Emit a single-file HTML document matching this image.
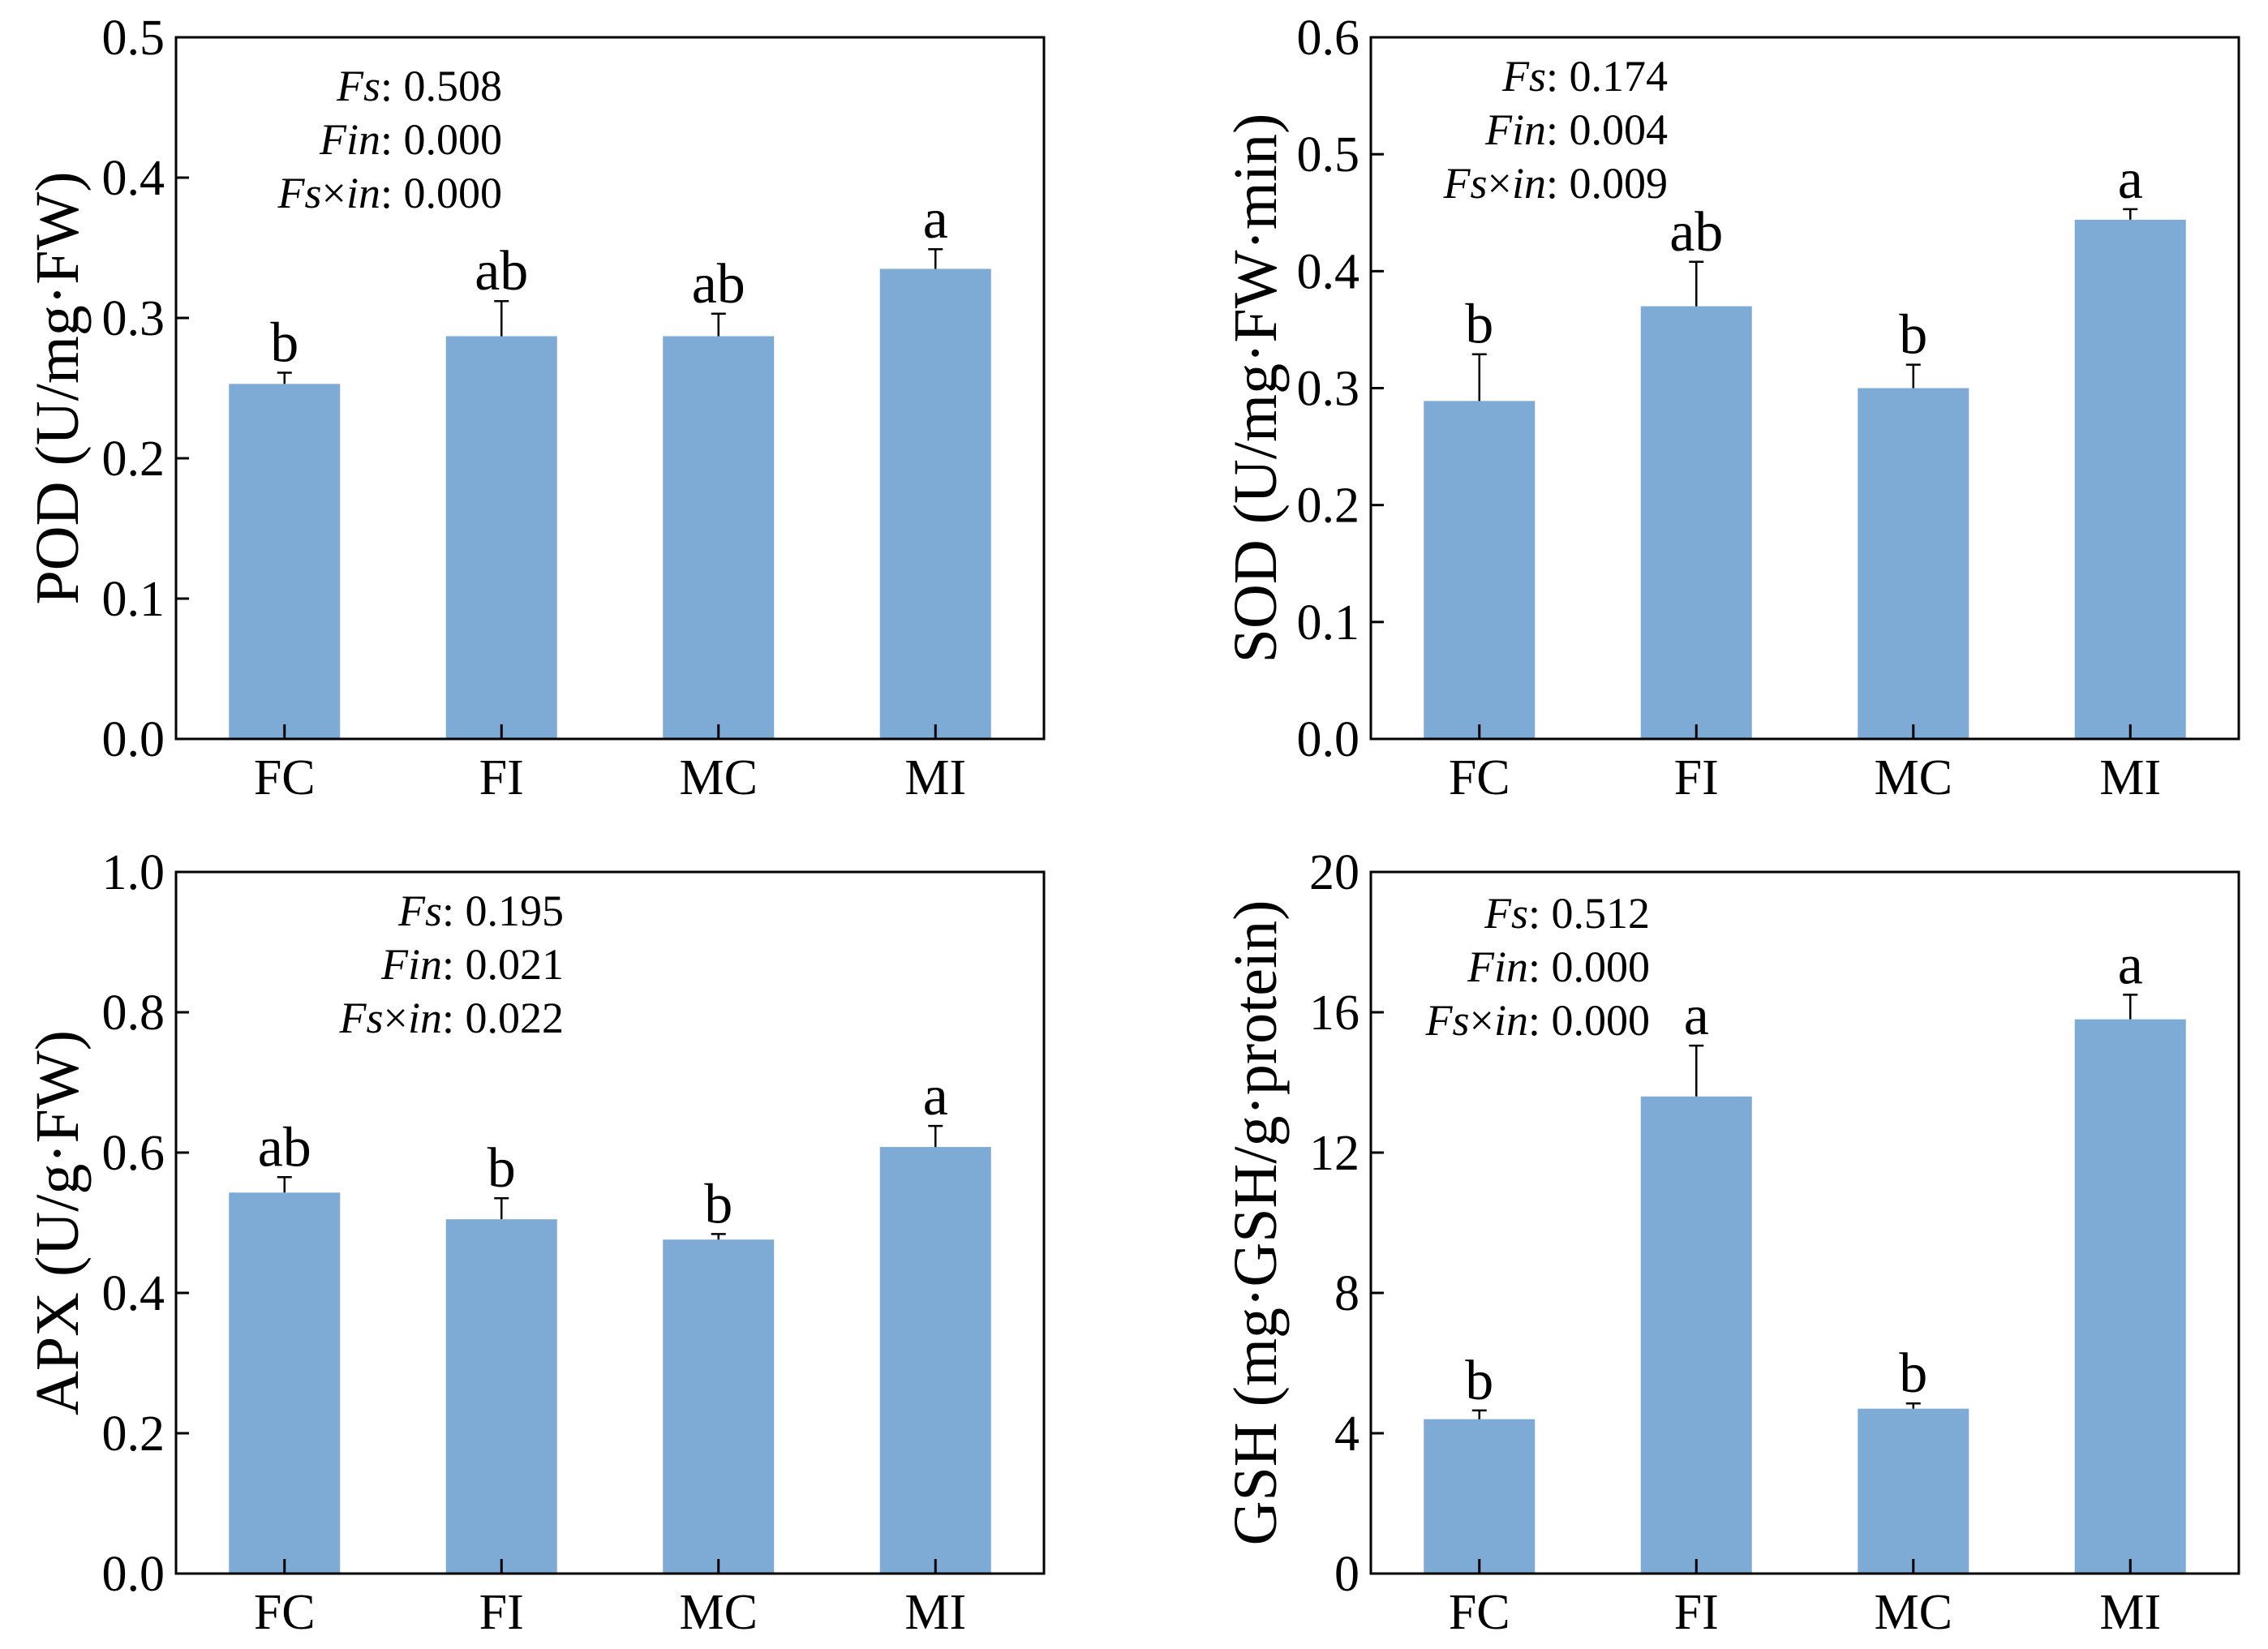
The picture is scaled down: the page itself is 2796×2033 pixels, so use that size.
<!DOCTYPE html>
<html><head><meta charset="utf-8"><style>
html,body{margin:0;padding:0;background:#fff;}
svg{display:block;font-family:"Liberation Serif",serif;}
</style></head><body>
<svg id="c" width="2796" height="2033" viewBox="0 0 2796 2033" xmlns="http://www.w3.org/2000/svg"></svg>
<script>
const categories = ["FC","FI","MC","MI"];
const podValues = [0.253,0.287,0.287,0.335];
const podErrors = [0.008,0.025,0.016,0.014];
const podLetters = ["b","ab","ab","a"];
const sodValues = [0.289,0.370,0.300,0.444];
const sodErrors = [0.040,0.038,0.020,0.009];
const sodLetters = ["b","ab","b","a"];
const apxValues = [0.543,0.505,0.476,0.608];
const apxErrors = [0.022,0.030,0.008,0.030];
const apxLetters = ["ab","b","b","a"];
const gshValues = [4.4,13.6,4.7,15.8];
const gshErrors = [0.25,1.45,0.15,0.7];
const gshLetters = ["b","a","b","a"];
const podTicks = ["0.0","0.1","0.2","0.3","0.4","0.5"];
const sodTicks = ["0.0","0.1","0.2","0.3","0.4","0.5","0.6"];
const apxTicks = ["0.0","0.2","0.4","0.6","0.8","1.0"];
const gshTicks = ["0","4","8","12","16","20"];
const podStats = ["0.508","0.000","0.000"];
const sodStats = ["0.174","0.004","0.009"];
const apxStats = ["0.195","0.021","0.022"];
const gshStats = ["0.512","0.000","0.000"];

const NS="http://www.w3.org/2000/svg";
const svg=document.getElementById('c');
function mk(tag,attrs,parent){const e=document.createElementNS(NS,tag);for(const k in attrs)e.setAttribute(k,attrs[k]);(parent||svg).appendChild(e);return e;}

const panels=[
 {id:'pod',x0:217,x1:1287,y0:46,y1:911,max:0.5,ticks:podTicks,vals:podValues,errs:podErrors,letters:podLetters,stats:podStats,title:"POD (U/mg·FW)",tx:70,sx:619,sy:[105,171,237]},
 {id:'sod',x0:1690,x1:2760,y0:46,y1:911,max:0.6,ticks:sodTicks,vals:sodValues,errs:sodErrors,letters:sodLetters,stats:sodStats,title:"SOD (U/mg·FW·min)",tx:1547,sx:2056,sy:[93,159,225]},
 {id:'apx',x0:217,x1:1287,y0:1075,y1:1940,max:1.0,ticks:apxTicks,vals:apxValues,errs:apxErrors,letters:apxLetters,stats:apxStats,title:"APX (U/g·FW)",tx:70,sx:695,sy:[1122,1188,1254]},
 {id:'gsh',x0:1690,x1:2760,y0:1075,y1:1940,max:20,ticks:gshTicks,vals:gshValues,errs:gshErrors,letters:gshLetters,stats:gshStats,title:"GSH (mg·GSH/g·protein)",tx:1547,sx:2034,sy:[1125,1191,1257]}
];
const statLabels=[["Fs",""],["Fin",""],["Fs","×","in"]];

panels.forEach(p=>{
 const g=mk('g',{});
 
 
 const ys=v=>p.y1-(v/p.max)*(p.y1-p.y0);
 const slot=(p.x1-p.x0)/4;
 const xc=i=>p.x0+(i+0.5)*slot;
 const bw=137;
 p.vals.forEach((v,i)=>{
  const r=mk('rect',{x:xc(i)-bw/2,y:ys(v),width:bw,height:p.y1-ys(v),fill:'#7dabd5'},g);
  
  
  const top=ys(v+p.errs[i]);
  const eb=mk('path',{d:`M${xc(i)} ${ys(v)} V${top} M${xc(i)-9} ${top} H${xc(i)+9}`,stroke:'#000','stroke-width':2.5,fill:'none'},g);
  
  
  const lt=mk('text',{x:xc(i),y:top-14,'font-size':70,'text-anchor':'middle'},g);
  lt.textContent=p.letters[i];
  
  
  const xl=mk('text',{x:xc(i),y:p.y1+68,'font-size':62,'text-anchor':'middle'},g);
  xl.textContent=categories[i];
  
  
  const xt=mk('line',{x1:xc(i),x2:xc(i),y1:p.y1,y2:p.y1-18,stroke:'#000','stroke-width':3},g);
  
  
 });
 const fr=mk('rect',{x:p.x0,y:p.y0,width:p.x1-p.x0,height:p.y1-p.y0,fill:'none',stroke:'#000','stroke-width':3},g);
 
 
 p.ticks.forEach((t,i)=>{
  const y=p.y1-i*(p.y1-p.y0)/(p.ticks.length-1);
  const tl=mk('line',{x1:p.x0,x2:p.x0+16,y1:y,y2:y,stroke:'#000','stroke-width':3},g);
  
  
  const tt=mk('text',{x:p.x0-14,y:y+21,'font-size':62,'text-anchor':'end'},g);
  tt.textContent=t;
  
  
 });
 const ti=mk('text',{x:0,y:0,'font-size':76,'text-anchor':'middle',transform:`translate(${p.tx+26},${(p.y0+p.y1)/2}) rotate(-90)`},g);
 ti.textContent=p.title;
 
 
 p.stats.forEach((s,i)=>{
  const st=mk('text',{x:p.sx,y:p.sy[i]+19,'font-size':54,'text-anchor':'end'},g);
  
  
  const lab=statLabels[i];
  lab.forEach((part,j)=>{
   if(!part)return;
   const ts=mk('tspan',{},st);
   if(part!=='×')ts.setAttribute('font-style','italic');
   ts.textContent=part;
  });
  const ts2=mk('tspan',{},st);
  ts2.textContent=': '+s;
 });
});
</script>
</body></html>
